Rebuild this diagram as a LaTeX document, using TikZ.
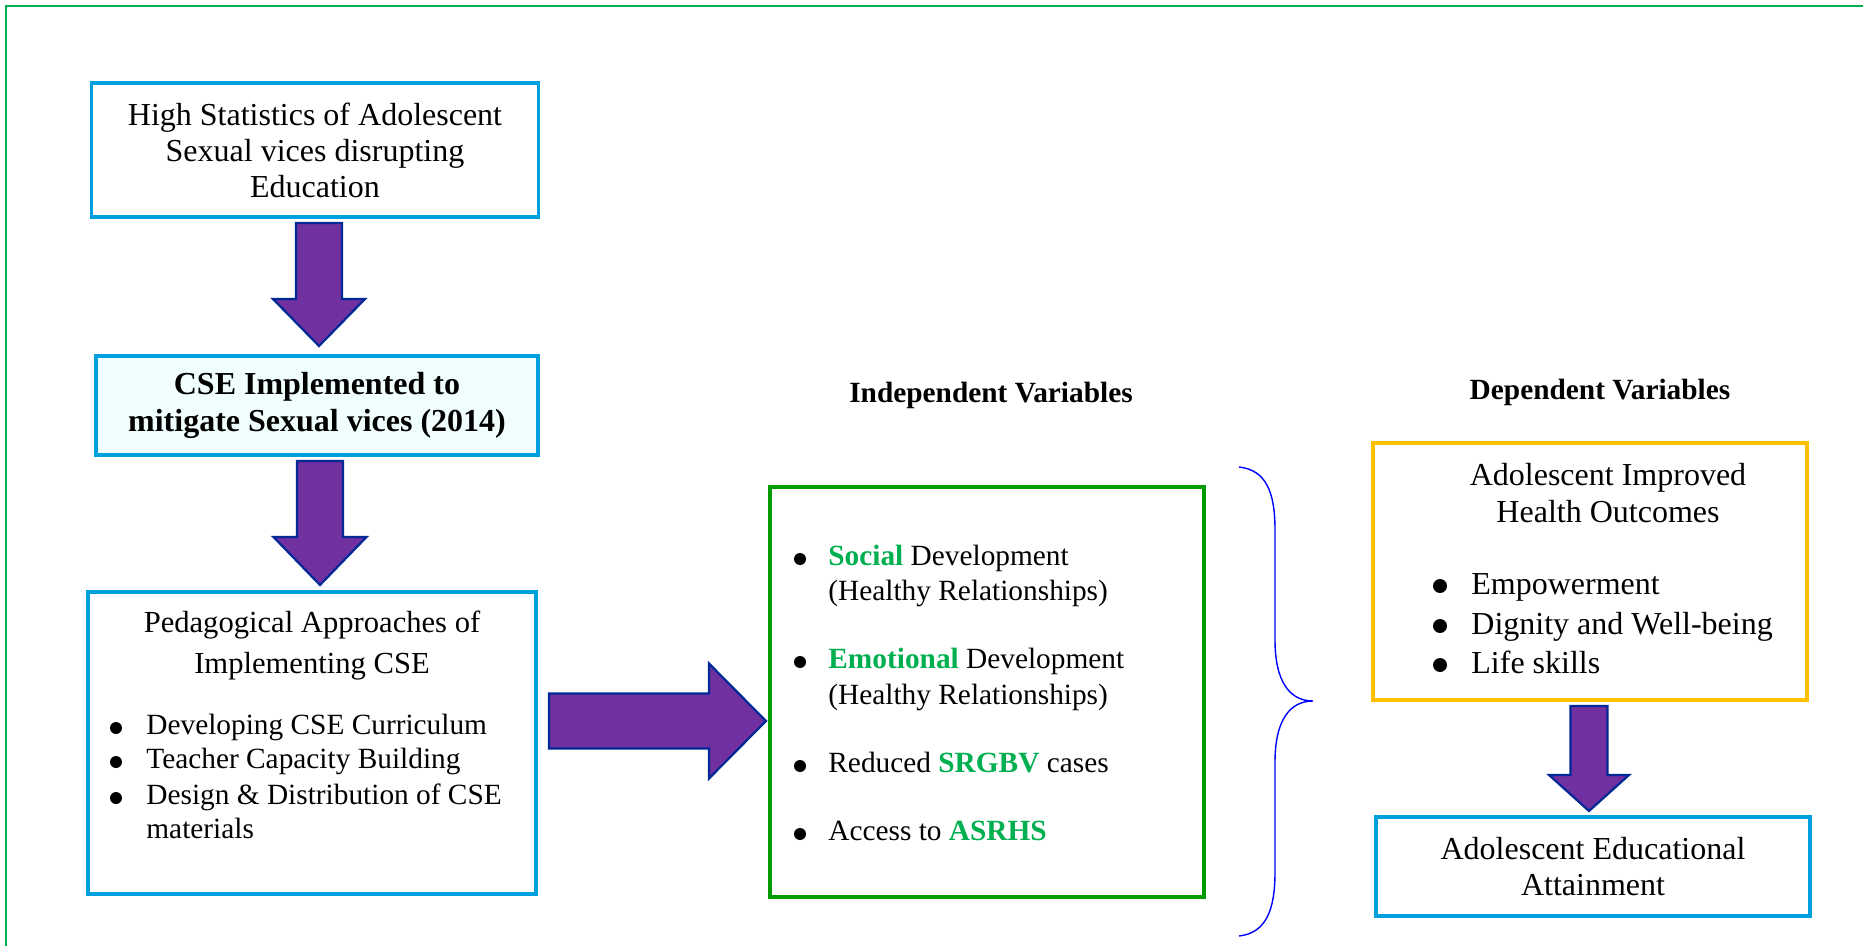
\documentclass[tikz,border=0pt]{standalone}
\usepackage{fontspec}
\setmainfont{Liberation Serif}
\usetikzlibrary{calc}
\definecolor{framegreen}{RGB}{0,176,80}
\definecolor{cyanbox}{RGB}{0,160,222}
\definecolor{boxfill}{RGB}{240,255,253}
\definecolor{arrowpurple}{RGB}{112,48,160}
\definecolor{arrowblue}{RGB}{0,40,150}
\definecolor{textgreen}{RGB}{0,176,80}
\definecolor{boxgreen}{RGB}{0,155,0}
\definecolor{boxorange}{RGB}{255,192,0}
\definecolor{bracecol}{RGB}{0,0,255}
\newcommand{\blockdown}[5]{%
  \draw[blockarrow] ($(#1)+(-#4,0)$) -- ($(#1)+(#4,0)$) -- ($(#2)+(#4,-#3)$) -- ($(#2)+(#5,-#3)$) -- (#2) -- ($(#2)+(-#5,-#3)$) -- ($(#2)+(-#4,-#3)$) -- cycle;}
\newcommand{\gb}[1]{\textcolor{textgreen}{\textbf{#1}}}
\begin{document}
\begin{tikzpicture}[x=0.5pt,y=-0.5pt,
  box/.style={draw=cyanbox, line width=1.8pt, inner sep=0pt, outer sep=0pt},
  big/.style={inner sep=0pt, text height=11pt, text depth=3.5pt, font=\fontsize{16}{18}\selectfont},
  small/.style={inner sep=0pt, text height=10pt, text depth=3.2pt, font=\fontsize{14.67}{17.6}\selectfont},
  dot/.style={circle, fill=black, inner sep=0pt, minimum size=6pt},
  bigdot/.style={circle, fill=black, inner sep=0pt, minimum size=7pt},
  blockarrow/.style={fill=arrowpurple, draw=arrowblue, line width=1.1pt, line join=miter},
  bracestyle/.style={draw=bracecol, line width=0.7pt}]
\useasboundingbox (0,0) rectangle (1863,946);
\fill[white] (0,0) rectangle (1863,946);
% outer frame
\draw[framegreen, line width=1.2pt] (6,950) -- (6,6) -- (1870,6);

% boxes
\node[box, minimum width=223.5pt, minimum height=67pt, align=center, font=\fontsize{16}{18}\selectfont] (b1) at (315,150) {High Statistics of Adolescent\\Sexual vices disrupting\\Education};
\node[box, fill=boxfill, minimum width=221pt, minimum height=49.5pt, align=center, font=\bfseries\fontsize{16}{18.5}\selectfont] (b2) at (317,405.5) {CSE Implemented to\\mitigate Sexual vices (2014)};
\node[box, minimum width=224pt, minimum height=151pt] (b3) at (312,743) {};
\node[box, draw=boxgreen, minimum width=217pt, minimum height=205pt] (b4) at (987,692) {};
\node[box, draw=boxorange, minimum width=217pt, minimum height=128.5pt] (b5) at (1590,571.5) {};
\node[box, minimum width=217pt, minimum height=49.5pt, align=center, font=\fontsize{16}{18}\selectfont] (b6) at (1593,866.5) {Adolescent Educational\\Attainment};

% box 3 text
\node[inner sep=0pt, align=center, font=\fontsize{15.3}{20.5}\selectfont] (b3h) at (312,646) {Pedagogical Approaches of\\Implementing CSE};
\node[dot] (b3d1) at (116,728) {};
\node[small, anchor=west] (b3t1) at (146,728) {Developing CSE Curriculum};
\node[dot] (b3d2) at (116,762) {};
\node[small, anchor=west] (b3t2) at (146,762) {Teacher Capacity Building};
\node[dot] (b3d3) at (116,798) {};
\node[small, anchor=west] (b3t3) at (146,798) {Design \& Distribution of CSE};
\node[small, anchor=west] (b3t4) at (146,832) {materials};

% headings
\node[small, font=\bfseries\fontsize{14.67}{17.6}\selectfont] (hind) at (991,396) {Independent Variables};
\node[small, font=\bfseries\fontsize{14.67}{17.6}\selectfont] (hdep) at (1600,393) {Dependent Variables};

% box 4 text
\node[dot] (b4d1) at (800,559) {};
\node[small, anchor=west] (b4t1) at (828,559) {\gb{Social} Development};
\node[small, anchor=west] (b4t2) at (828,594) {(Healthy Relationships)};
\node[dot] (b4d2) at (800,662) {};
\node[small, anchor=west] (b4t3) at (828,662) {\gb{Emotional} Development};
\node[small, anchor=west] (b4t4) at (828,698) {(Healthy Relationships)};
\node[dot] (b4d3) at (800,766) {};
\node[small, anchor=west] (b4t5) at (828,766) {Reduced \gb{SRGBV} cases};
\node[dot] (b4d4) at (800,834) {};
\node[small, anchor=west] (b4t6) at (828,834) {Access to \gb{ASRHS}};

% box 5 text
\node[inner sep=0pt, align=center, font=\fontsize{16}{18.5}\selectfont] (b5h) at (1608,493) {Adolescent Improved\\Health Outcomes};
\node[bigdot] (b5d1) at (1440,586) {};
\node[big, anchor=west] (b5t1) at (1471,587) {Empowerment};
\node[bigdot] (b5d2) at (1440,626) {};
\node[big, anchor=west] (b5t2) at (1471,627) {Dignity and Well-being};
\node[bigdot] (b5d3) at (1440,665) {};
\node[big, anchor=west] (b5t3) at (1471,666) {Life skills};

% block arrows
\coordinate (a1t) at ($(b1.south)+(4,6)$);
\coordinate (a1p) at ($(a1t |- b2.north)+(0,-10)$);
\blockdown{a1t}{a1p}{47}{23}{46}
\coordinate (a2t) at ($(b2.south)+(3,6)$);
\coordinate (a2p) at ($(a2t |- b3.north)+(0,-7)$);
\blockdown{a2t}{a2p}{48}{23}{46.5}
\coordinate (a3t) at ($(b5.south)+(-1,6)$);
\coordinate (a3p) at ($(a3t |- b6.north)+(0,-6)$);
\blockdown{a3t}{a3p}{36}{18.5}{40}
\coordinate (a4t) at ($(b3.east)+(13,-22)$);
\coordinate (a4p) at ($(a4t -| b4.west)+(-4,0)$);
\draw[blockarrow] ($(a4t)+(0,-27.5)$) -- ($(a4p)+(-57,-27.5)$) -- ($(a4p)+(-57,-57.5)$) -- (a4p) -- ($(a4p)+(-57,57.5)$) -- ($(a4p)+(-57,27.5)$) -- ($(a4t)+(0,27.5)$) -- cycle;

% brace
\draw[bracestyle] (1239,467) .. controls (1266,470) and (1275,492) .. (1275,530) -- (1275,640) .. controls (1275,682) and (1290,701) .. (1313,701) .. controls (1290,701) and (1275,720) .. (1275,762) -- (1275,872) .. controls (1275,910) and (1266,933) .. (1239,936);
\end{tikzpicture}
\end{document}
